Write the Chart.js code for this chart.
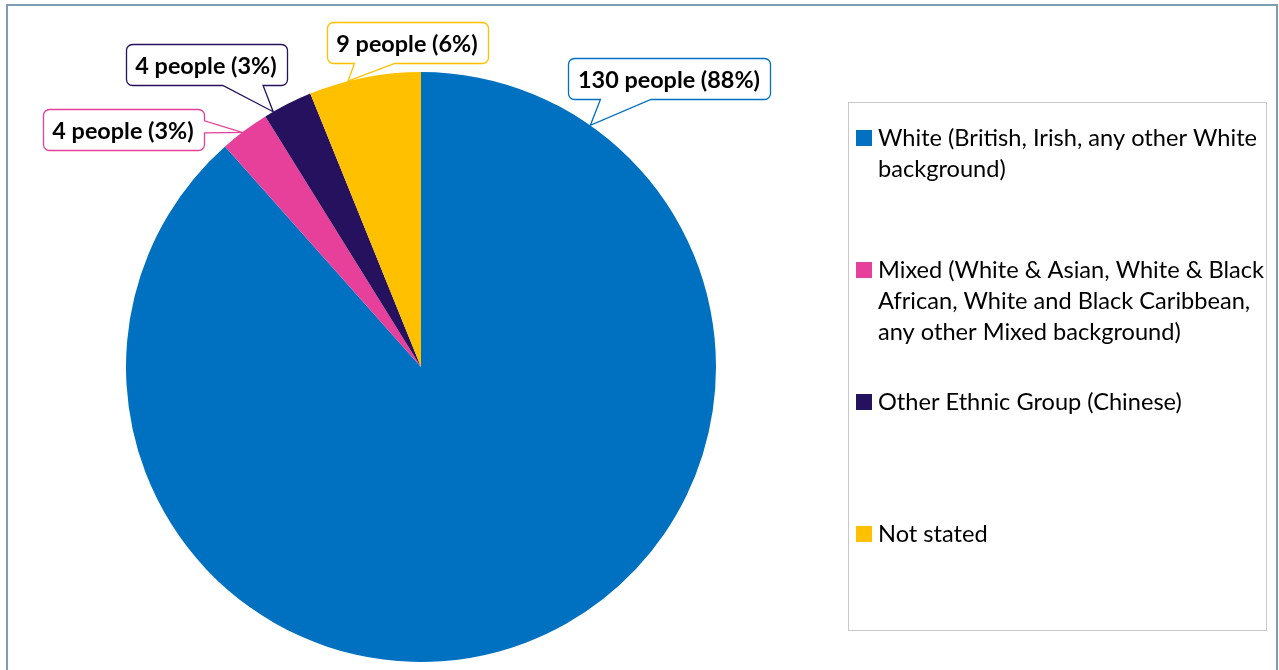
<!DOCTYPE html>
<html><head><meta charset="utf-8">
<script src="https://cdn.jsdelivr.net/npm/chart.js@4/dist/chart.umd.min.js"></script>
<style>html,body{margin:0;padding:0;background:#fff;overflow:hidden}#wrap{position:relative;width:1279px;height:670px}</style>
</head><body><div id="wrap"><canvas id="c" width="1279" height="670"></canvas></div>
<script>
// ---- data ----
const categories = [
  "White (British, Irish, any other White background)",
  "Mixed (White & Asian, White & Black African, White and Black Caribbean, any other Mixed background)",
  "Other Ethnic Group (Chinese)",
  "Not stated"
];
const legendLines = [
  ["White (British, Irish, any other White", "background)"],
  ["Mixed (White & Asian, White & Black", "African, White and Black Caribbean,", "any other Mixed background)"],
  ["Other Ethnic Group (Chinese)"],
  ["Not stated"]
];
const people = [130, 4, 4, 9];
const colors = ["#0070C0", "#E6409B", "#25115E", "#FFC000"];

// ---- label placement (layout only) ----
const labelBoxOffset = [[248, -289], [-298, -238], [-215, -303], [-14, -325]]; // box centre relative to pie centre
const anchorFrac = [0.11, 0.44, 0.18, 0.35]; // where along each slice's arc the callout points

const FONT_FAMILY = "Lato, 'Open Sans', sans-serif";

const framePlugin = {
  id: 'frame',
  beforeDraw(chart) {
    const c = chart.ctx;
    c.save();
    c.fillStyle = '#fff';
    c.fillRect(0, 0, chart.width, chart.height);
    c.strokeStyle = '#7d9db4';
    c.lineWidth = 2;
    c.strokeRect(7, 5, 1270, 700);
    c.restore();
  }
};

function calloutPath(c, x0, y0, x1, y1, r, tip, side, b1, b2) {
  c.beginPath();
  c.moveTo(x0 + r, y0);
  c.lineTo(x1 - r, y0);
  c.arcTo(x1, y0, x1, y0 + r, r);
  if (side === 'right') { c.lineTo(x1, b1); c.lineTo(tip.x, tip.y); c.lineTo(x1, b2); }
  c.lineTo(x1, y1 - r);
  c.arcTo(x1, y1, x1 - r, y1, r);
  if (side === 'bottom') { c.lineTo(b2, y1); c.lineTo(tip.x, tip.y); c.lineTo(b1, y1); }
  c.lineTo(x0 + r, y1);
  c.arcTo(x0, y1, x0, y1 - r, r);
  if (side === 'left') { c.lineTo(x0, b2); c.lineTo(tip.x, tip.y); c.lineTo(x0, b1); }
  c.lineTo(x0, y0 + r);
  c.arcTo(x0, y0, x0 + r, y0, r);
  c.closePath();
}

const calloutPlugin = {
  id: 'callouts',
  afterDatasetsDraw(chart) {
    const c = chart.ctx;
    const meta = chart.getDatasetMeta(0);
    const data = chart.data.datasets[0].data;
    const total = data.reduce((a, b) => a + b, 0);
    c.save();
    c.font = "bold 23.4px " + FONT_FAMILY;
    meta.data.forEach((arc, i) => {
      const p = arc.getProps(['x', 'y', 'startAngle', 'endAngle', 'outerRadius'], true);
      const a = p.startAngle + anchorFrac[i] * (p.endAngle - p.startAngle);
      const tip = { x: p.x + p.outerRadius * Math.cos(a), y: p.y + p.outerRadius * Math.sin(a) };
      const text = data[i] + " people (" + Math.round(data[i] / total * 100) + "%)";
      const tw = c.measureText(text).width;
      const w = Math.round(tw + 20), h = 41;
      const cx = p.x + labelBoxOffset[i][0], cy = p.y + labelBoxOffset[i][1];
      const x0 = Math.round(cx - w / 2) + 0.5, y0 = Math.round(cy - h / 2) + 0.5;
      const x1 = x0 + w, y1 = y0 + h;
      let side, b1, b2;
      if (tip.y > y1 && tip.x >= x0 && tip.x <= x1) {
        side = 'bottom';
        const hw = 0.125 * w;
        let m = cx + 0.55 * (tip.x - cx);
        m = Math.max(x0 + 6 + hw, Math.min(x1 - 6 - hw, m));
        b1 = m - hw; b2 = m + hw;
      } else {
        side = tip.x > x1 ? 'right' : 'left';
        const hw = 6;
        let m = cy + 0.55 * (tip.y - cy) - 4;
        m = Math.max(y0 + 6 + hw, Math.min(y1 - 6 - hw, m));
        b1 = m - hw; b2 = m + hw;
      }
      calloutPath(c, x0, y0, x1, y1, 6, tip, side, b1, b2);
      c.fillStyle = '#fff';
      c.fill();
      c.strokeStyle = colors[i];
      c.lineWidth = 1.3;
      c.stroke();
      c.fillStyle = '#000';
      c.textAlign = 'center';
      c.textBaseline = 'middle';
      c.fillText(text, cx, (y0 + y1) / 2 + 1);
    });
    c.restore();
  }
};

const legendPlugin = {
  id: 'customLegend',
  afterDraw(chart) {
    const c = chart.ctx;
    const bx0 = 848.5, by0 = 102.5, bx1 = 1266.5, by1 = 630.5;
    c.save();
    c.strokeStyle = '#c8c8c8';
    c.lineWidth = 1;
    c.strokeRect(bx0, by0, bx1 - bx0, by1 - by0);
    c.font = "23.6px " + FONT_FAMILY;
    c.textAlign = 'left';
    c.textBaseline = 'middle';
    legendLines.forEach((lines, i) => {
      const y = by0 + 35 + i * 132;
      c.fillStyle = colors[i];
      c.fillRect(856, Math.round(y - 8), 16, 16);
      c.fillStyle = '#000';
      lines.forEach((ln, j) => c.fillText(ln, 878, y + 1 + j * 31));
    });
    c.restore();
  }
};

new Chart(document.getElementById('c'), {
  type: 'pie',
  data: {
    labels: categories,
    datasets: [{ data: people, backgroundColor: colors, borderWidth: 0 }]
  },
  options: {
    responsive: false,
    animation: false,
    events: [],
    layout: { padding: { left: 126, right: 563, top: 72, bottom: 8 } },
    plugins: { legend: { display: false }, tooltip: { enabled: false } }
  },
  plugins: [framePlugin, calloutPlugin, legendPlugin]
});
</script>
</body></html>
